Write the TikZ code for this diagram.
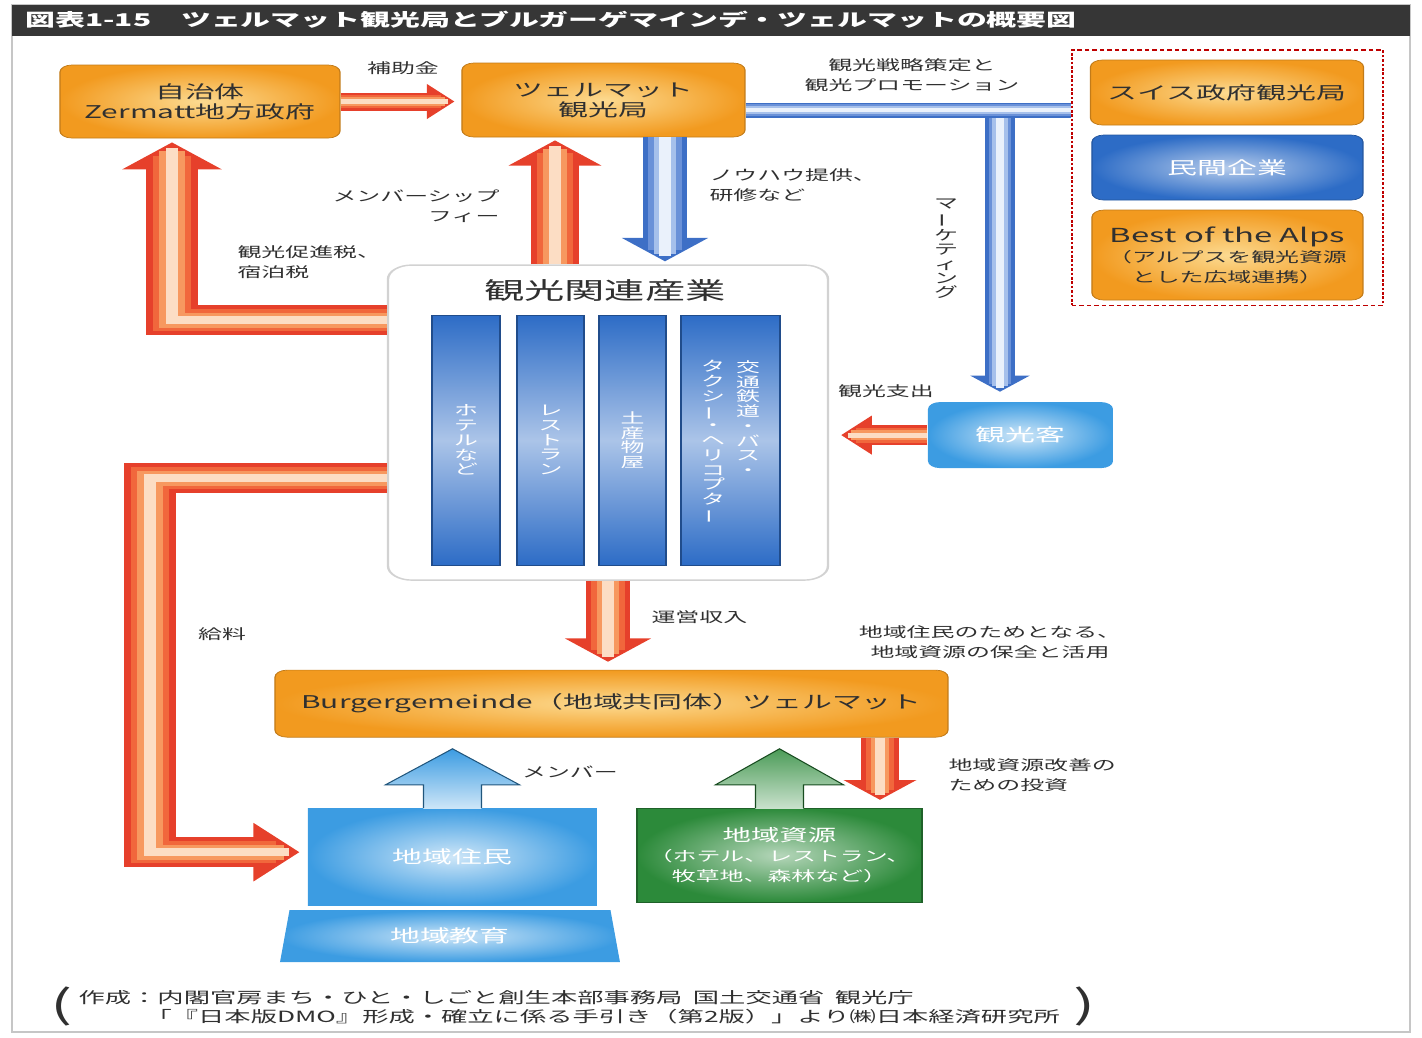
\documentclass[tikz,border=0pt]{standalone}
\usepackage{fontspec}
\setmainfont{Noto Sans CJK JP}
\usepackage{graphicx}
\usetikzlibrary{arrows.meta,shapes.geometric,calc}
\definecolor{titlegray}{HTML}{363636}
\definecolor{textgray}{HTML}{303030}
\definecolor{boxorange}{HTML}{F29A1F}
\definecolor{paleorange}{HTML}{FCDA90}
\definecolor{darkblue}{HTML}{2D6CC6}
\definecolor{skyblue}{HTML}{3C9CE2}
\definecolor{leafgreen}{HTML}{2C8A3A}
\definecolor{flowred}{HTML}{E6402B}
\definecolor{flowred2}{HTML}{F1673C}
\definecolor{floworange}{HTML}{F7985F}
\definecolor{flowpale}{HTML}{FCDDC4}
\definecolor{flowblue}{HTML}{3D6FC6}
\definecolor{flowblue2}{HTML}{6A91D8}
\definecolor{flowmid}{HTML}{A6C0EB}
\definecolor{flowice}{HTML}{EAF1FB}
\newcommand{\choon}{\rotatebox[origin=c]{90}{ー}}
\tikzset{
  boxsize/.style 2 args={minimum width=#1*0.011765cm, minimum height=#2*0.02cm},
  orangebox/.style={rectangle, rounded corners=4pt, draw=boxorange!80!black, inner color=paleorange, outer color=boxorange, text=textgray, align=center, font=\fontsize{10}{11.5}\selectfont, inner sep=0pt},
  bluebox/.style={rectangle, rounded corners=4pt, draw=darkblue!80!black, inner color=darkblue!35!white, outer color=darkblue, text=white, align=center, font=\fontsize{10}{11.5}\selectfont, inner sep=0pt},
  skybox/.style={draw=none, inner color=skyblue!25!white, outer color=skyblue, text=white, align=center, font=\fontsize{10}{11.5}\selectfont, inner sep=0pt},
  greenbox/.style={rectangle, draw=leafgreen!70!black, inner color=leafgreen!35!white, outer color=leafgreen, text=white, align=center, font=\fontsize{8}{11.4}\selectfont, inner sep=0pt},
  partnerbox/.style={rectangle, draw=red!75!black, dash pattern=on 1.5pt off 1pt, line width=0.6pt},
  industrybox/.style={rectangle, rounded corners=8pt, draw=gray!35, fill=white, line width=0.8pt},
  barbox/.style={rectangle, draw=darkblue!70!black, top color=darkblue, bottom color=darkblue, middle color=darkblue!40!white, inner sep=0pt},
  bartext/.style={text=white, align=center, font=\fontsize{8}{8.4}\selectfont, inner sep=0pt},
  labeltext/.style={text=textgray, font=\fontsize{8}{11.4}\selectfont, inner sep=0pt},
  flow/.style={line width=#1*0.02cm, line join=miter},
  redflow/.style={flow=#1, draw=flowred, -{Triangle[width=0pt 1.9, length=0pt 0.9]},
    postaction={draw=flowred2, line width=#1*0.015cm, -, shorten >=#1*0.009cm},
    postaction={draw=floworange, line width=#1*0.01cm, -, shorten >=#1*0.006cm},
    postaction={draw=flowpale, line width=#1*0.005cm, -, shorten >=#1*0.004cm}},
  blueflow/.style={flow=#1, draw=flowblue, -{Triangle[width=0pt 1.9, length=0pt 0.9]},
    postaction={draw=flowblue2, line width=#1*0.015cm, -, shorten >=#1*0.009cm},
    postaction={draw=flowmid, line width=#1*0.01cm, -, shorten >=#1*0.006cm},
    postaction={draw=flowice, line width=#1*0.005cm, -, shorten >=#1*0.004cm}},
  bluepipe/.style={flow=#1, draw=flowblue,
    postaction={draw=flowblue2, line width=#1*0.015cm},
    postaction={draw=flowmid, line width=#1*0.01cm},
    postaction={draw=flowice, line width=#1*0.005cm}},
  upoutline/.style={draw=#1!55!black, line width=0.5pt, line join=miter},
}
\begin{document}
\begin{tikzpicture}
\useasboundingbox (0,0) rectangle (28.44,-20.76);
\begin{scope}[transform canvas={xscale=1.7}, x=0.011765cm, y=-0.02cm]
  % 枠とタイトル
  \draw[gray!45, line width=1pt] (12,5) rectangle (1410,1032);
  \fill[titlegray] (12,5) rectangle (1410,36);
  \node[anchor=west, text=white, font=\fontsize{10}{12}\selectfont\bfseries, inner sep=0pt] (title) at (25,20) {図表1-15　ツェルマット観光局とブルガーゲマインデ・ツェルマットの概要図};
  % 上段の組織
  \node[orangebox, boxsize={280}{73}] (gov) at (200,101.5) {自治体\\Zermatt地方政府};
  \node[orangebox, boxsize={283}{74}] (zto) at (603.5,100) {ツェルマット\\観光局};
  \node[partnerbox, boxsize={311}{255}] (partners) at (1227.5,177.5) {};
  \node[orangebox, boxsize={273}{65}] (swiss) at (1227,92.5) {スイス政府観光局};
  \node[bluebox, boxsize={271}{65}] (private) at (1227.5,167.5) {民間企業};
  \node[orangebox, boxsize={271}{90}, font=\fontsize{8}{11.4}\selectfont] (alps) at (1227.5,255) {{\fontsize{11}{12}\selectfont Best of the Alps}\\（アルプスを観光資源\\とした広域連携）};
  % 観光関連産業
  \node[industrybox, boxsize={440}{315}] (industry) at (608,422.5) {};
  \node[text=textgray, font=\fontsize{13.5}{15}\selectfont, inner sep=0pt] (indtitle) at (605,290) {観光関連産業};
  \node[barbox, boxsize={68}{250}] (bar1) at (466,440) {};
  \node[barbox, boxsize={67}{250}] (bar2) at (550.5,440) {};
  \node[barbox, boxsize={67}{250}] (bar3) at (632.5,440) {};
  \node[barbox, boxsize={99}{250}] (bar4) at (730.5,440) {};
  \node[bartext] (hotel) at (bar1) {ホ\\テ\\ル\\な\\ど};
  \node[bartext] (restaurant) at (bar2) {レ\\ス\\ト\\ラ\\ン};
  \node[bartext] (souvenir) at (bar3) {土\\産\\物\\屋};
  \node[bartext, anchor=north] (rail) at (748,360) {交\\通\\鉄\\道\\・\\バ\\ス\\・};
  \node[bartext, anchor=north] (taxi) at (713,360) {タ\\ク\\シ\\\choon\\・\\ヘ\\リ\\コ\\プ\\タ\\\choon};
  % 観光客
  \node[skybox, rectangle, rounded corners=4pt, boxsize={185}{66}] (visitor) at (1020.5,435) {観光客};
  % 下段
  \node[orangebox, boxsize={673}{67}] (burger) at (611.5,703.5) {Burgergemeinde（地域共同体）ツェルマット};
  \node[skybox, rectangle, boxsize={289}{97}] (residents) at (452.5,856.5) {地域住民};
  \node[skybox, trapezium, trapezium angle=71, trapezium stretches body, boxsize={340}{52}] (education) at (450,936) {地域教育};
  \node[greenbox, boxsize={285}{94}] (resources) at (779.5,855) {{\fontsize{9.5}{11.4}\selectfont 地域資源}\\（ホテル、レストラン、\\牧草地、森林など）};
  % お金の流れ
  \draw[redflow=18] (gov.east) -- ($(gov.east -| zto.west)+(-7,0)$);
  \draw[redflow=28] (industry.north -| 555,0) -- ($(zto.south -| 555,0)+(0,3)$);
  \draw[redflow=30] (industry.west |- 0,320) -| ($(gov.south -| 172,0)+(0,4)$);
  \draw[redflow=30] (industry.west |- 0,478) -| (150,852) -- ($(residents.west |- 0,852)+(-8,0)$);
  \draw[redflow=20] (visitor.west) -- ($(visitor.west -| industry.east)+(12,0)$);
  \draw[redflow=26] (industry.south) -- ($(industry.south |- burger.north)+(0,-8)$);
  \draw[redflow=22] (burger.south -| 880,0) -- ($(resources.north -| 880,0)+(0,-8)$);
  % 観光局からの流れ
  \coordinate (tee) at (1000,110);
  \draw[blueflow=26] (zto.south -| 665,0) -- ($(industry.north -| 665,0)+(0,-3)$);
  \draw[blueflow=18] (tee) -- ($(tee |- visitor.north)+(0,-10)$);
  \draw[bluepipe=15] (zto.east |- tee) -- (partners.west |- tee);
  % メンバーの矢印
  \shade[top color=skyblue, bottom color=skyblue!25!white] (residents.north) ++(-29,1) -- ++(0,-24) -- ++(-38,0) -- ++(67,-36) -- ++(67,36) -- ++(-38,0) -- ++(0,24) -- cycle;
  \draw[upoutline=skyblue] (residents.north) ++(-29,0) -- ++(0,-23) -- ++(-38,0) -- ++(67,-36) -- ++(67,36) -- ++(-38,0) -- ++(0,23);
  \shade[top color=leafgreen!85!white, bottom color=leafgreen!25!white] (resources.north) ++(-24,1) -- ++(0,-24) -- ++(-40,0) -- ++(64,-36) -- ++(64,36) -- ++(-40,0) -- ++(0,24) -- cycle;
  \draw[upoutline=leafgreen] (resources.north) ++(-24,0) -- ++(0,-23) -- ++(-40,0) -- ++(64,-36) -- ++(64,36) -- ++(-40,0) -- ++(0,23);
  % ラベル
  \node[labeltext] (subsidy) at (403,68) {補助金};
  \node[labeltext, anchor=east, align=right] (fee) at (500,206) {メンバーシップ\\フィー};
  \node[labeltext, anchor=west, align=left] (tax) at (237,262) {観光促進税、\\宿泊税};
  \node[labeltext, anchor=west, align=left] (knowhow) at (709,185) {ノウハウ提供、\\研修など};
  \node[labeltext, align=center] (promo) at (912,75) {観光戦略策定と\\観光プロモーション};
  \node[labeltext, align=center, font=\fontsize{8}{8.2}\selectfont] (marketing) at (946,249) {マ\\\choon\\ケ\\テ\\ィ\\ン\\グ};
  \node[labeltext] (spend) at (886,391) {観光支出};
  \node[labeltext] (salary) at (222,634) {給料};
  \node[labeltext, anchor=west] (revenue) at (651,617) {運営収入};
  \node[labeltext, align=center] (conserve) at (990,642) {地域住民のためとなる、\\地域資源の保全と活用};
  \node[labeltext, anchor=west, align=left] (invest) at (948,775) {地域資源改善の\\ための投資};
  \node[labeltext] (member) at (570,772) {メンバー};
  % 出典
  \node[text=textgray, font=\fontsize{22}{22}\selectfont, inner sep=0pt] (lparen) at (62,1006) {(};
  \node[text=textgray, font=\fontsize{22}{22}\selectfont, inner sep=0pt] (rparen) at (1085,1006) {)};
  \node[labeltext, anchor=west, font=\fontsize{8.8}{10}\selectfont] (source1) at (78,997) {作成：内閣官房まち・ひと・しごと創生本部事務局\hspace{0.4em}国土交通省\hspace{0.4em}観光庁};
  \node[labeltext, anchor=west, font=\fontsize{8.8}{10}\selectfont] (source2) at (145,1016) {「『日本版DMO』形成・確立に係る手引き（第2版）」より㈱日本経済研究所};
\end{scope}
\end{tikzpicture}
\end{document}
